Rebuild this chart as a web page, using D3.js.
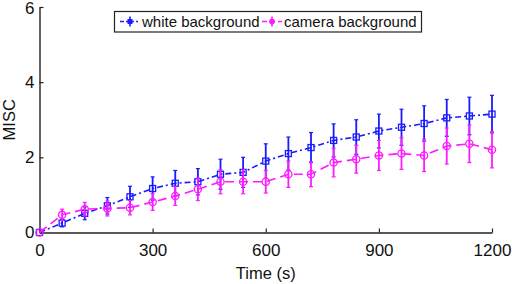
<!DOCTYPE html>
<html>
<head>
<meta charset="utf-8">
<script src="https://cdn.jsdelivr.net/npm/d3@7"></script>
<style>
  body { margin: 0; background: #fff; }
  svg { display: block; font-family: Arial, "Liberation Sans", sans-serif; }
</style>
</head>
<body>
<div id="chart"></div>
<script>
const width = 512, height = 284;
const margin = {left: 39.5, right: 20, top: 7, bottom: 51.5};

// data
const times = [0, 60, 120, 180, 240, 300, 360, 420, 480, 540, 600, 660, 720, 780, 840, 900, 960, 1020, 1080, 1140, 1200];
const whiteMean = [0, 0.25, 0.51, 0.71, 0.95, 1.17, 1.31, 1.35, 1.55, 1.6, 1.9, 2.1, 2.26, 2.45, 2.54, 2.7, 2.8, 2.9, 3.05, 3.1, 3.15];
const whiteErr  = [0, 0.1, 0.17, 0.22, 0.28, 0.31, 0.34, 0.35, 0.4, 0.4, 0.46, 0.44, 0.4, 0.44, 0.46, 0.45, 0.48, 0.47, 0.49, 0.5, 0.5];
const cameraMean = [0, 0.47, 0.62, 0.64, 0.66, 0.81, 0.97, 1.15, 1.35, 1.35, 1.35, 1.55, 1.55, 1.86, 1.95, 2.05, 2.1, 2.05, 2.3, 2.36, 2.2];
const cameraErr  = [0, 0.15, 0.18, 0.2, 0.19, 0.22, 0.25, 0.3, 0.32, 0.32, 0.3, 0.35, 0.33, 0.38, 0.37, 0.4, 0.42, 0.43, 0.48, 0.5, 0.48];
const xTicks = [0, 300, 600, 900, 1200];
const yTicks = [0, 2, 4, 6];
const seriesNames = ["white background", "camera background"];

const svg = d3.select("#chart").append("svg")
  .attr("width", width)
  .attr("height", height);

const x = d3.scaleLinear().domain([0, 1200]).range([margin.left, width - margin.right]);
const y = d3.scaleLinear().domain([0, 6]).range([height - margin.bottom, margin.top]);

// axes, ticks pointing inward
const xAxis = svg.append("g")
  .attr("transform", `translate(0,${y(0)})`)
  .call(d3.axisBottom(x).tickValues(xTicks).tickFormat(d3.format("d"))
    .tickSizeInner(-4).tickSizeOuter(0).tickPadding(11));
const yAxis = svg.append("g")
  .attr("transform", `translate(${x(0)},0)`)
  .call(d3.axisLeft(y).tickValues(yTicks).tickFormat(d3.format("d"))
    .tickSizeInner(-4).tickSizeOuter(0).tickPadding(5));

[xAxis, yAxis].forEach(a => {
  a.select(".domain").attr("stroke", "#222").attr("stroke-width", 1.4);
  a.selectAll(".tick line").attr("stroke", "#222").attr("stroke-width", 1.2);
  a.selectAll(".tick text").attr("font-size", 17).attr("fill", "#111")
    .attr("font-family", "Arial, 'Liberation Sans', sans-serif");
});
xAxis.selectAll(".tick text").attr("dy", "0.71em");
// keep the top label inside the picture
yAxis.selectAll(".tick text").filter(d => d === 6).attr("dy", "0.4em");

svg.append("text")
  .attr("x", (x(0) + x(1200)) / 2)
  .attr("y", 279)
  .attr("text-anchor", "middle")
  .attr("font-size", 16.5)
  .attr("fill", "#111")
  .text("Time (s)");

svg.append("text")
  .attr("transform", `translate(15,${y(3)}) rotate(-90)`)
  .attr("text-anchor", "middle")
  .attr("font-size", 16.5)
  .attr("fill", "#111")
  .text("MISC");

const series = [
  {name: seriesNames[0], mean: whiteMean, err: whiteErr, color: "#1a1aff", dash: "6,3,2,3", marker: "square"},
  {name: seriesNames[1], mean: cameraMean, err: cameraErr, color: "#ff1aff", dash: "9,5", marker: "circle"}
];

const line = d3.line().x(d => x(d.t)).y(d => y(d.v));

series.forEach(s => {
  const pts = times.map((t, i) => ({t, v: s.mean[i], e: s.err[i]}));
  const g = svg.append("g");

  // error bars
  const eb = g.append("g").attr("stroke", s.color).attr("stroke-width", 1.8);
  eb.selectAll("line.bar").data(pts.filter(d => d.e > 0)).join("line")
    .attr("x1", d => x(d.t)).attr("x2", d => x(d.t))
    .attr("y1", d => y(d.v - d.e)).attr("y2", d => y(d.v + d.e));
  eb.selectAll("line.capTop").data(pts.filter(d => d.e > 0)).join("line")
    .attr("class", "capTop")
    .attr("stroke-width", 1.2)
    .attr("x1", d => x(d.t) - 2).attr("x2", d => x(d.t) + 2)
    .attr("y1", d => y(d.v + d.e)).attr("y2", d => y(d.v + d.e));
  eb.selectAll("line.capBot").data(pts.filter(d => d.e > 0)).join("line")
    .attr("class", "capBot")
    .attr("stroke-width", 1.2)
    .attr("x1", d => x(d.t) - 2).attr("x2", d => x(d.t) + 2)
    .attr("y1", d => y(d.v - d.e)).attr("y2", d => y(d.v - d.e));

  g.append("path")
    .datum(pts)
    .attr("fill", "none")
    .attr("stroke", s.color)
    .attr("stroke-width", 1.6)
    .attr("stroke-dasharray", s.dash)
    .attr("d", line);

  if (s.marker === "square") {
    g.selectAll("rect").data(pts).join("rect")
      .attr("x", d => x(d.t) - 3).attr("y", d => y(d.v) - 3)
      .attr("width", 6).attr("height", 6)
      .attr("fill", "none").attr("stroke", s.color).attr("stroke-width", 1.3);
  } else {
    g.selectAll("circle").data(pts).join("circle")
      .attr("cx", d => x(d.t)).attr("cy", d => y(d.v)).attr("r", 3.6)
      .attr("fill", "none").attr("stroke", s.color).attr("stroke-width", 1.3);
  }
});

// legend
const leg = svg.append("g");
leg.append("rect")
  .attr("x", 114.5).attr("y", 11.5).attr("width", 307).attr("height", 20.5)
  .attr("fill", "#fff").attr("stroke", "#222").attr("stroke-width", 1.2);

const legX = [120, 262];
series.forEach((s, i) => {
  const lx = legX[i], ly = 21.5;
  leg.append("line")
    .attr("x1", lx).attr("x2", lx + 20).attr("y1", ly).attr("y2", ly)
    .attr("stroke", s.color).attr("stroke-width", 1.6)
    .attr("stroke-dasharray", i === 0 ? "4,2,2,2" : "5,3");
  leg.append("line")
    .attr("x1", lx + 10).attr("x2", lx + 10).attr("y1", ly - 5).attr("y2", ly + 5)
    .attr("stroke", s.color).attr("stroke-width", 1.6);
  if (s.marker === "square") {
    leg.append("rect").attr("x", lx + 8).attr("y", ly - 2).attr("width", 4).attr("height", 4)
      .attr("fill", s.color).attr("stroke", s.color);
  } else {
    leg.append("circle").attr("cx", lx + 10).attr("cy", ly).attr("r", 2.5)
      .attr("fill", s.color).attr("stroke", s.color);
  }
  leg.append("text")
    .attr("x", lx + 22).attr("y", ly + 5.5)
    .attr("font-size", 15)
    .attr("fill", "#111")
    .text(s.name);
});
</script>
</body>
</html>
